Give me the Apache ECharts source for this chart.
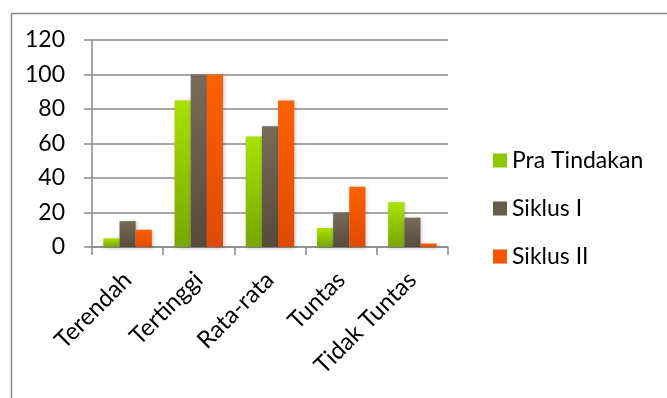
<!DOCTYPE html>
<html><head><meta charset="utf-8">
<script src="https://cdn.jsdelivr.net/npm/echarts@6/dist/echarts.min.js"></script>
<style>html,body{margin:0;padding:0;background:#fff}#c{width:667px;height:398px}</style>
</head><body><div id="c"></div>
<script>
const categories = ['Terendah', 'Tertinggi', 'Rata-rata', 'Tuntas', 'Tidak Tuntas'];
const seriesNames = ['Pra Tindakan', 'Siklus I', 'Siklus II'];
const praTindakan = [5, 85, 64, 11, 26];
const siklusI = [15, 100, 70, 20, 17];
const siklusII = [10, 100, 85, 35, 2];
const yTicks = [0, 20, 40, 60, 80, 100, 120];

const FONT = 'Lato, "Open Sans", sans-serif';
function grad(top, bottom) {
  return new echarts.graphic.LinearGradient(0, 0, 0, 1, [
    { offset: 0, color: top }, { offset: 1, color: bottom }
  ]);
}
const colors = [grad('#a8e200', '#77a600'), grad('#786b59', '#564b3d'), grad('#ff6100', '#de4a00')];
const legendColors = ['#8fc800', '#675b4a', '#f25600'];
const dataSets = [praTindakan, siklusI, siklusII];

const chart = echarts.init(document.getElementById('c'), null, { renderer: 'canvas' });
chart.setOption({
  animation: false,
  graphic: [{
    type: 'rect', left: 9, top: 11, z: -1,
    shape: { width: 700, height: 400 },
    style: { fill: 'none', stroke: '#8a8a8a', lineWidth: 1.5 }
  }],
  legend: {
    orient: 'vertical', left: 488, top: 144, itemGap: 25,
    itemWidth: 14, itemHeight: 14, icon: 'rect',
    textStyle: { fontFamily: FONT, fontSize: 23, color: '#000' },
    data: seriesNames.map((n, i) => ({ name: n, itemStyle: { color: legendColors[i] } }))
  },
  grid: { left: 92, right: 219, top: 40, bottom: 151, containLabel: false },
  xAxis: {
    type: 'category', data: categories,
    axisLine: { lineStyle: { color: '#8a8a8a', width: 1.5 } },
    axisTick: { show: true, length: 8, alignWithLabel: false, lineStyle: { color: '#8a8a8a', width: 1.5 } },
    axisLabel: { rotate: 45, margin: 29, fontFamily: FONT, fontSize: 24, color: '#000', interval: 0 }
  },
  yAxis: {
    type: 'value', min: 0, max: 120, interval: 20,
    axisLine: { show: true, lineStyle: { color: '#8a8a8a', width: 1.5 } },
    axisTick: { show: true, length: 8, lineStyle: { color: '#8a8a8a', width: 1.5 } },
    splitLine: { lineStyle: { color: '#8a8a8a', width: 1.5 } },
    axisLabel: { margin: 27, fontFamily: FONT, fontSize: 23, color: '#000',
      formatter: v => yTicks.includes(v) ? String(v) : '' }
  },
  series: seriesNames.map((n, i) => ({
    name: n, type: 'bar', data: dataSets[i],
    barGap: '0%', barCategoryGap: '32%',
    itemStyle: { color: colors[i], shadowColor: 'rgba(0,0,0,0.25)', shadowBlur: 4, shadowOffsetX: 1, shadowOffsetY: 1 }
  }))
});
</script></body></html>
